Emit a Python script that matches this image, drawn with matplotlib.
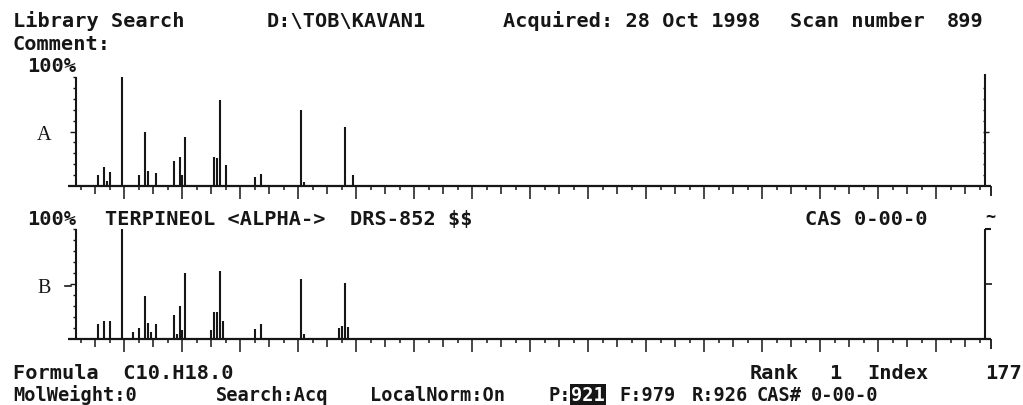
import matplotlib.pyplot as plt

W, H = 1023, 406
INK = '#161616'
MONO = 'DejaVu Sans Mono'
FS = 14.6

# scan 899 (top trace A): m/z and relative intensity in %
mz_a = [51, 53, 54, 55, 59, 65, 67, 68, 71, 77, 79, 80, 81, 91, 92, 93, 95,
        105, 107, 121, 122, 136, 139]
int_a = [10, 17, 5, 13, 100, 10, 50, 14, 12, 23, 27, 10, 45, 27, 26, 79, 19,
         8, 11, 70, 4, 54, 10]

# library hit TERPINEOL <ALPHA-> (bottom trace B)
mz_b = [51, 53, 55, 59, 63, 65, 67, 68, 69, 71, 77, 78, 79, 80, 81, 90, 91, 92,
        93, 94, 105, 107, 121, 122, 134, 135, 136, 137]
int_b = [14, 16, 16, 100, 6, 10, 39, 15, 6, 14, 22, 5, 30, 8, 60, 8, 25, 25,
         62, 16, 9, 14, 55, 5, 10, 12, 51, 11]

# mass window of the printout
mz_lo, mz_hi = 43.3, 356.8
tick_mz = list(range(45, 356, 5))

fig = plt.figure(figsize=(W / 100, H / 100), dpi=100)


def put(x, y, s, **kw):
    # x, y in pixels from the top left, y = text baseline
    opts = dict(fontfamily=MONO, fontweight='bold', fontsize=FS, color=INK,
                va='baseline', ha='left', parse_math=False)
    opts.update(kw)
    return fig.text(x / W, 1 - y / H, s, **opts)


def panel(base, top, mz, inten, right_style):
    ax = fig.add_axes([76 / W, 1 - base / H, (985 - 76) / W, (base - top) / H])
    ax.set_xlim(mz_lo, mz_hi)
    ax.set_ylim(0, 100)
    ax.axis('off')
    sx = (mz_hi - mz_lo) / 909.0    # one pixel in m/z
    sy = 100.0 / (base - top)       # one pixel in %
    ln = dict(color=INK, clip_on=False, solid_capstyle='butt')

    ax.vlines(mz, 0, inten, lw=1.5, color=INK, clip_on=False, capstyle='butt')

    # baseline with hanging mass ticks, hooked at the right end
    x_end = mz_hi + 6 * sx
    ax.plot([mz_lo - 8 * sx, x_end], [0, 0], lw=1.6, **ln)
    for m in tick_mz:
        d = 13 if m % 20 == 0 else (8 if m % 10 == 0 else 4)
        ax.plot([m, m], [0, -d * sy], lw=1.1, **ln)
    ax.plot([x_end, x_end], [0, -10 * sy], lw=1.3, **ln)

    # left intensity axis
    ax.plot([mz_lo, mz_lo], [0, 100], lw=1.5, **ln)
    for p in range(10, 101, 10):
        d = 6 if p == 50 else 3
        ax.plot([mz_lo - d * sx, mz_lo], [p, p], lw=1.0, **ln)

    # right axis
    if right_style == 'A':
        ax.plot([mz_hi, mz_hi], [0, 103], lw=1.5, **ln)
        for p in range(10, 100, 10):
            ax.plot([mz_hi - 2 * sx, mz_hi], [p, p], lw=1.0, **ln)
        ax.plot([mz_hi, mz_hi + 4 * sx], [50, 50], lw=1.0, **ln)
    else:
        ax.plot([mz_hi, mz_hi], [0, 100], lw=1.5, **ln)
        ax.plot([mz_hi, mz_hi + 6 * sx], [100, 100], lw=1.5, **ln)
        ax.plot([mz_hi, mz_hi + 7 * sx], [50, 50], lw=1.2, **ln)
    return ax


panel(187, 78, mz_a, int_a, 'A')
panel(340, 230, mz_b, int_b, 'B')

# header
put(13, 27, 'Library Search')
put(267, 27, 'D:\\TOB\\KAVAN1')
put(503, 27, 'Acquired: 28 Oct 1998')
put(790, 27, 'Scan number')
put(947, 27, '899')
put(13, 50, 'Comment:')
put(27, 72, '100%')

# trace labels
put(37, 140, 'A', fontfamily='Liberation Serif', fontweight='normal', fontsize=14.5)
put(37, 293, 'B', fontfamily='Liberation Serif', fontweight='normal', fontsize=14.5)
fig.add_artist(plt.Line2D([65 / W, 71 / W], [1 - 287 / H, 1 - 287 / H], color=INK, lw=1.2))

# library hit line
put(27, 225, '100%')
put(105, 225, 'TERPINEOL <ALPHA->  DRS-852 $$')
put(805, 225, 'CAS 0-00-0')
put(985, 222, '~', fontsize=12)

# footer
put(13, 379, 'Formula  C10.H18.0')
put(750, 379, 'Rank')
put(829, 379, '1')
put(867, 379, 'Index')
put(985, 379, '177')
FS2 = 13.4
put(13, 401, 'MolWeight:0', fontsize=FS2)
put(216, 401, 'Search:Acq', fontsize=FS2)
put(370, 401, 'LocalNorm:On', fontsize=FS2)
put(548, 401, 'P:', fontsize=FS2)
put(571, 401, '921', color='white', fontsize=FS2,
    bbox=dict(facecolor=INK, edgecolor='none', pad=1.0))
put(619, 401, 'F:979', fontsize=FS2)
put(692, 401, 'R:926', fontsize=FS2)
put(757, 401, 'CAS#', fontsize=FS2)
put(811, 401, '0-00-0', fontsize=FS2)

fig.savefig('out.png', dpi=100, facecolor='white')
